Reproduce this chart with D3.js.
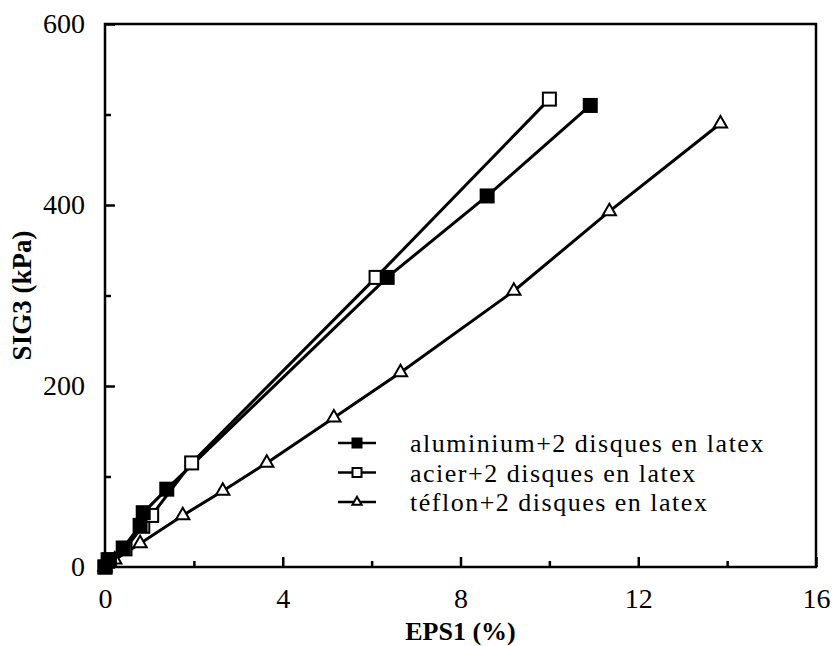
<!DOCTYPE html>
<html>
<head>
<meta charset="utf-8">
<script src="https://cdn.jsdelivr.net/npm/d3@7"></script>
<style>
  body { margin: 0; background: #fff; }
  svg text { font-family: "Liberation Serif", "Times New Roman", Times, "DejaVu Serif", serif; fill: #000; }
</style>
</head>
<body>
<div id="chart"></div>
<script>
// Data
const aluX = [0, 0.07, 0.41, 0.79, 0.86, 1.39, 6.35, 8.6, 10.92];
const aluY = [0, 8, 21, 46, 60, 86, 320, 410, 510];
const acierX = [0, 0.1, 0.45, 0.85, 1.05, 1.95, 6.1, 10.0];
const acierY = [0, 8, 20, 45, 57, 115, 320, 517];
const teflonX = [0, 0.22, 0.79, 1.75, 2.65, 3.64, 5.15, 6.65, 9.2, 11.35, 13.85];
const teflonY = [0, 8, 26, 57, 84, 115, 165, 215, 305, 393, 490];
const seriesNames = ["aluminium+2 disques en latex", "acier+2 disques en latex", "téflon+2 disques en latex"];
const xTicks = [0, 4, 8, 12, 16];
const xMinor = [2, 6, 10, 14];
const yTicks = [0, 200, 400, 600];
const yMinor = [100, 300, 500];

const FONT = "'Liberation Serif', 'Times New Roman', Times, 'DejaVu Serif', serif";

const width = 833, height = 646;
const margin = { top: 24, right: 17, bottom: 79, left: 105 };
const innerW = width - margin.left - margin.right;
const innerH = height - margin.top - margin.bottom;

const svg = d3.select("#chart").append("svg")
    .attr("width", width)
    .attr("height", height)
    .attr("font-family", FONT);

const g = svg.append("g")
    .attr("transform", `translate(${margin.left},${margin.top})`);

const xScale = d3.scaleLinear().domain([0, 16]).range([0, innerW]);
const yScale = d3.scaleLinear().domain([0, 600]).range([innerH, 0]);

// frame
g.append("rect")
    .attr("width", innerW)
    .attr("height", innerH)
    .style("fill", "none")
    .style("stroke", "#000")
    .style("stroke-width", 2.5);

// axes, ticks pointing inward
g.append("g")
    .attr("transform", `translate(0,${innerH})`)
    .call(d3.axisBottom(xScale).tickValues(xTicks).tickSize(-10).tickPadding(21).tickFormat(d3.format("d")));
g.append("g")
    .attr("transform", `translate(0,${innerH})`)
    .call(d3.axisBottom(xScale).tickValues(xMinor).tickSize(-6).tickFormat(""));
g.append("g")
    .call(d3.axisLeft(yScale).tickValues(yTicks).tickSize(-10).tickPadding(20));
g.append("g")
    .call(d3.axisLeft(yScale).tickValues(yMinor).tickSize(-6).tickFormat(""));

g.selectAll(".domain").remove();
g.selectAll("g").attr("font-family", FONT).attr("font-size", 28);
g.selectAll(".tick line").style("stroke", "#000").style("stroke-width", 2.5);

// axis titles
svg.append("text")
    .attr("text-anchor", "middle")
    .attr("x", margin.left + innerW / 2)
    .attr("y", 640)
    .style("font-size", "26px")
    .style("font-weight", "bold")
    .text("EPS1 (%)");

svg.append("text")
    .attr("text-anchor", "middle")
    .attr("transform", "rotate(-90)")
    .attr("x", -(margin.top + innerH / 2))
    .attr("y", 31)
    .style("font-size", "27px")
    .style("font-weight", "bold")
    .text("SIG3 (kPa)");

const line = d3.line()
    .x(d => xScale(d[0]))
    .y(d => yScale(d[1]));

const series = [
    { name: seriesNames[0], pts: d3.zip(aluX, aluY), marker: "fsquare" },
    { name: seriesNames[1], pts: d3.zip(acierX, acierY), marker: "osquare" },
    { name: seriesNames[2], pts: d3.zip(teflonX, teflonY), marker: "triangle" }
];

function drawMarker(sel, type, size) {
    if (type === "triangle") {
        sel.append("path")
            .attr("d", d3.symbol().type(d3.symbolTriangle).size(size * size * 0.45))
            .style("fill", "#fff")
            .style("stroke", "#000")
            .style("stroke-width", 2);
    } else {
        sel.append("rect")
            .attr("x", -size / 2)
            .attr("y", -size / 2)
            .attr("width", size)
            .attr("height", size)
            .style("fill", type === "fsquare" ? "#000" : "#fff")
            .style("stroke", "#000")
            .style("stroke-width", 2);
    }
}

series.forEach(s => {
    g.append("path")
        .datum(s.pts)
        .attr("d", line)
        .style("fill", "none")
        .style("stroke", "#000")
        .style("stroke-width", 3);
});

series.slice().reverse().forEach(s => {
    g.selectAll(null)
        .data(s.pts)
        .enter()
        .append("g")
        .attr("transform", d => `translate(${xScale(d[0])},${yScale(d[1])})`)
        .each(function() { drawMarker(d3.select(this), s.marker, 13); });
});

// legend
const legend = svg.append("g").attr("transform", "translate(338,443)");
series.forEach((s, i) => {
    const row = legend.append("g").attr("transform", `translate(0,${i * 29.5})`);
    row.append("line")
        .attr("x1", 0).attr("x2", 38)
        .style("stroke", "#000")
        .style("stroke-width", 2.5);
    const m = row.append("g").attr("transform", "translate(19,0)");
    drawMarker(m, s.marker, 9);
    row.append("text")
        .attr("x", 72)
        .attr("y", 9)
        .style("font-size", "26px")
        .style("letter-spacing", "1.5px")
        .text(s.name);
});
</script>
</body>
</html>
